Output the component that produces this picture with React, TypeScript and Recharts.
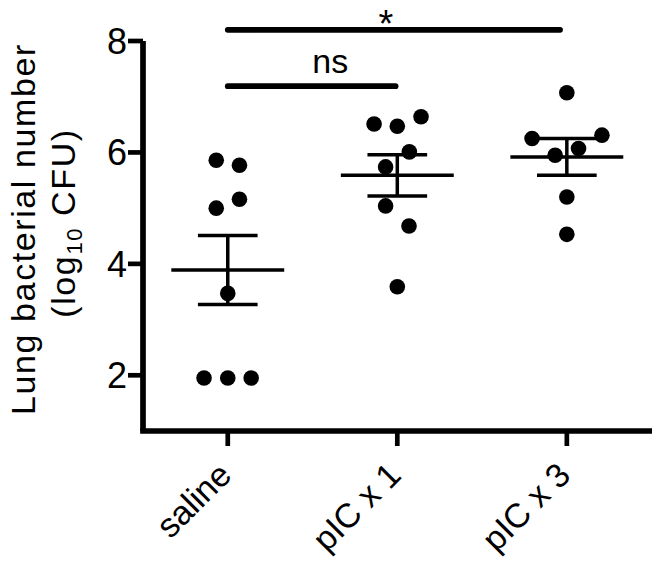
import React from 'react';
import { ScatterChart, Scatter, XAxis, YAxis, ReferenceLine } from 'recharts';

const groups = ['saline', 'pIC x 1', 'pIC x 3'];

// log10 CFU per mouse, with the horizontal spread of the dots (in group units)
const salineValues = [5.86, 5.77, 5.16, 5.0, 3.47, 1.95, 1.95, 1.95];
const salineSpread = [-0.068, 0.069, 0.069, -0.068, 0, -0.14, 0, 0.138];
const pic1Values = [6.51, 6.47, 6.64, 6.01, 5.74, 5.04, 4.68, 3.59];
const pic1Spread = [-0.137, 0, 0.14, 0.071, -0.069, -0.069, 0.069, 0];
const pic3Values = [7.07, 6.25, 6.31, 6.07, 5.95, 5.2, 4.53];
const pic3Spread = [0, -0.205, 0.207, 0.069, -0.069, 0, 0];

const groupMeans = [3.89, 5.59, 5.92];
const groupSem = [0.62, 0.37, 0.33];

const yTicks = [2, 4, 6, 8];
const X_DOMAIN = [0.5, 3.5];
const Y_DOMAIN = [1, 8];

const sigBars = [
  { from: 1, to: 1.99, y: 7.19, label: 'ns' },
  { from: 1, to: 2.96, y: 8.2, label: '*' },
];

const FONT = '"Liberation Sans", Arial, Helvetica, sans-serif';
const MEAN_HALF = 0.333; // half width of mean bar, group units
const CAP_HALF = 0.176;

const toPoints = (values: number[], spread: number[], group: number) =>
  values.map((v, i) => ({ x: group + spread[i], y: v }));

const allPoints = [
  ...toPoints(salineValues, salineSpread, 1),
  ...toPoints(pic1Values, pic1Spread, 2),
  ...toPoints(pic3Values, pic3Spread, 3),
];

const Dot = (props: any) => <circle cx={props.cx} cy={props.cy} r={7.8} fill="#000" />;

const XTick = ({ x, y, payload }: any) => (
  <g>
    <line x1={x} x2={x} y1={y - 16} y2={y - 1} stroke="#000" strokeWidth={4.7} />
    <g transform={`translate(${x + 5.5},${y + 30})`}>
      <text transform="rotate(-45)" textAnchor="end" fontSize={34} fontFamily={FONT} fill="#000">
        {groups[payload.value - 1]}
      </text>
    </g>
  </g>
);

const YTick = ({ x, y, payload }: any) => (
  <g>
    <line x1={x + 1} x2={x + 16} y1={y} y2={y} stroke="#000" strokeWidth={4.7} />
    <text x={x} y={y} dy="0.36em" textAnchor="end" fontSize={36} fontFamily={FONT} fill="#000">
      {payload.value}
    </text>
  </g>
);

const YTitle = () => (
  <g fontFamily={FONT} fontSize={34} fill="#000" letterSpacing={1.6}>
    <text transform="translate(35,229) rotate(-90)" textAnchor="middle">
      Lung bacterial number
    </text>
    <text transform="translate(74.5,223) rotate(-90)" textAnchor="middle">
      (log<tspan fontSize={22} dy={7}>10</tspan>
      <tspan dy={-7}> CFU)</tspan>
    </text>
  </g>
);

const SigText = ({ viewBox, text, dx, dy, size }: any) => (
  <text
    x={viewBox.x + viewBox.width / 2 + dx}
    y={viewBox.y + dy}
    textAnchor="middle"
    fontSize={size}
    fontFamily={FONT}
    fill="#000"
  >
    {text}
  </text>
);

const bar = (key: string, x1: number, y1: number, x2: number, y2: number, width = 3.5, cap = 'butt') => (
  <ReferenceLine
    key={key}
    segment={[
      { x: x1, y: y1 },
      { x: x2, y: y2 },
    ]}
    ifOverflow="visible"
    stroke="#000"
    strokeWidth={width}
    strokeLinecap={cap as any}
  />
);

export default function App() {
  return (
    <div style={{ margin: -8 }}>
      <ScatterChart width={660} height={569} margin={{ top: 41, right: 8.4, bottom: 0, left: 0 }}>
        <XAxis
          type="number"
          dataKey="x"
          domain={X_DOMAIN}
          ticks={[1, 2, 3]}
          allowDataOverflow
          height={138}
          tickSize={14}
          axisLine={false}
          tickLine={false}
          tick={<XTick />}
        />
        <YAxis
          type="number"
          dataKey="y"
          domain={Y_DOMAIN}
          ticks={yTicks}
          allowDataOverflow
          width={143}
          tickSize={14}
          axisLine={false}
          tickLine={false}
          tick={<YTick />}
          label={<YTitle />}
        />
        {bar('xaxis', X_DOMAIN[0], Y_DOMAIN[0], X_DOMAIN[1], Y_DOMAIN[0], 5.7, 'square')}
        {bar('yaxis', X_DOMAIN[0], Y_DOMAIN[0], X_DOMAIN[0], Y_DOMAIN[1], 5.7, 'butt')}
        {sigBars.map((b) => (
          <ReferenceLine
            key={b.label}
            segment={[
              { x: b.from, y: b.y },
              { x: b.to, y: b.y },
            ]}
            ifOverflow="visible"
            stroke="#000"
            strokeWidth={5.7}
            strokeLinecap="round"
            label={
              b.label === 'ns' ? (
                <SigText text="ns" dx={18.5} dy={-12.7} size={34} />
              ) : (
                <SigText text="*" dx={-8} dy={7} size={38} />
              )
            }
          />
        ))}
        {groupMeans.map((m, i) => {
          const g = i + 1;
          const s = groupSem[i];
          return [
            bar(`mean${g}`, g - MEAN_HALF, m, g + MEAN_HALF, m),
            bar(`stem${g}`, g, m - s, g, m + s),
            bar(`top${g}`, g - CAP_HALF, m + s, g + CAP_HALF, m + s),
            bar(`bot${g}`, g - CAP_HALF, m - s, g + CAP_HALF, m - s),
          ];
        })}
        <Scatter data={allPoints} shape={<Dot />} isAnimationActive={false} />
      </ScatterChart>
    </div>
  );
}
